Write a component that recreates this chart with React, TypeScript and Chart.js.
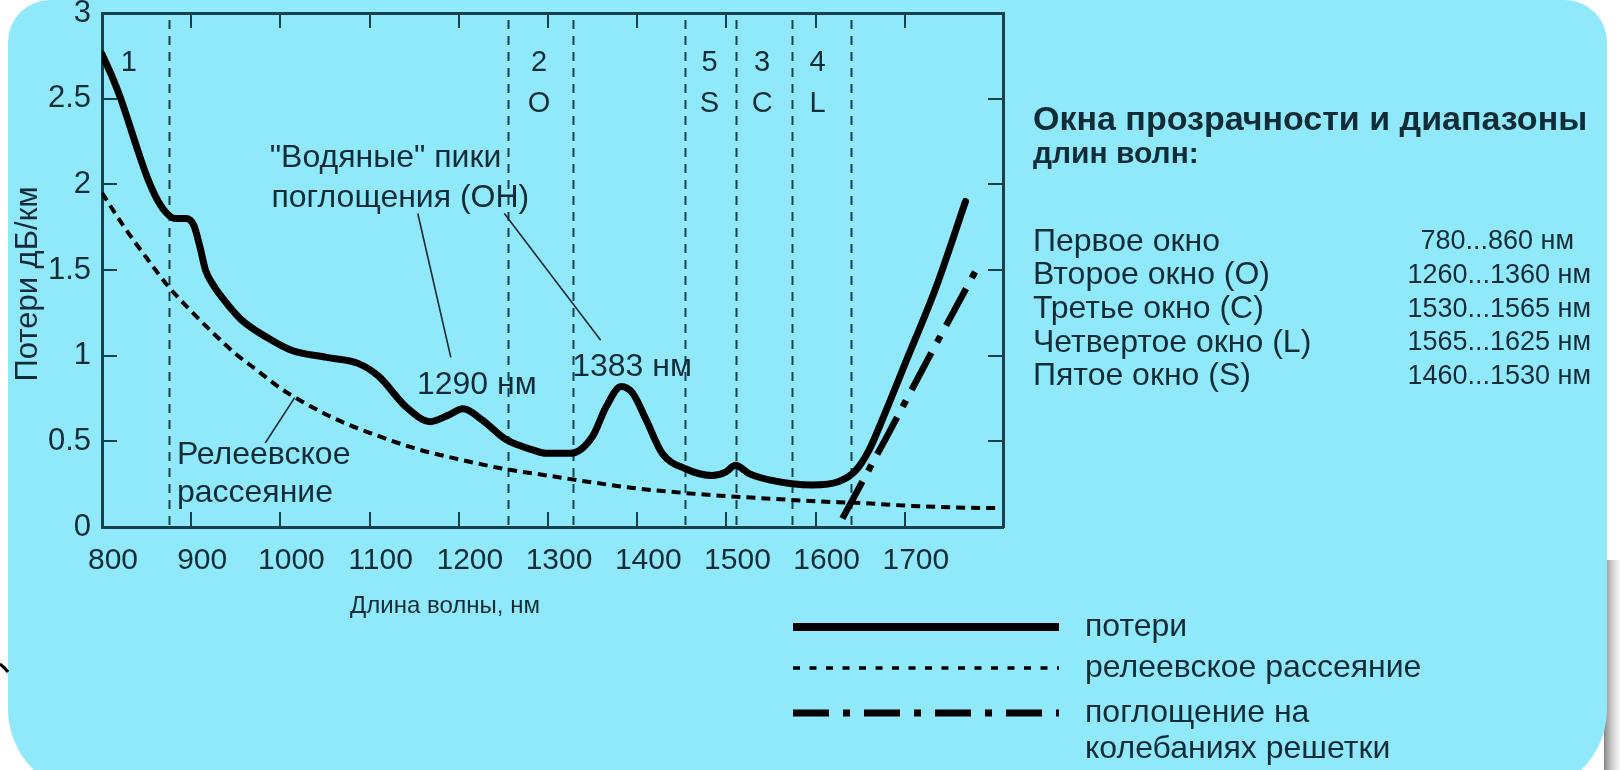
import { useEffect, useRef } from 'react';
import { Chart, registerables } from 'chart.js';

Chart.register(...registerables);

// ---------- data ----------
const lossWavelengths = [800, 812, 821, 830, 840, 850, 860, 871, 882, 894, 903, 910, 916, 925, 933, 956, 987, 1013, 1052, 1087, 1110, 1141, 1168, 1187, 1205, 1226, 1253, 1283, 1298, 1325, 1350, 1365, 1382, 1395, 1410, 1428, 1454, 1484, 1499, 1510, 1526, 1548, 1596, 1626, 1645, 1660, 1675, 1700, 1735, 1768];
const lossValues = [2.76, 2.62, 2.5, 2.36, 2.2, 2.05, 1.93, 1.84, 1.8, 1.8, 1.76, 1.63, 1.5, 1.41, 1.35, 1.21, 1.1, 1.03, 0.99, 0.955, 0.88, 0.7, 0.615, 0.65, 0.69, 0.625, 0.51, 0.45, 0.43, 0.43, 0.53, 0.7, 0.82, 0.78, 0.625, 0.43, 0.34, 0.3, 0.32, 0.36, 0.31, 0.275, 0.245, 0.265, 0.33, 0.45, 0.63, 0.95, 1.4, 1.9];

const rayleighWavelengths = [800, 825, 850, 875, 900, 925, 950, 975, 1000, 1025, 1050, 1075, 1100, 1150, 1200, 1250, 1300, 1350, 1400, 1450, 1500, 1550, 1600, 1650, 1700, 1750, 1805];
const rayleighValues = [1.95, 1.75, 1.57, 1.4, 1.26, 1.13, 1.01, 0.91, 0.81, 0.73, 0.66, 0.6, 0.55, 0.46, 0.395, 0.34, 0.3, 0.26, 0.225, 0.2, 0.18, 0.165, 0.15, 0.14, 0.125, 0.115, 0.11];

const latticeWavelengths = [1630, 1680, 1730, 1783];
const latticeValues = [0.05, 0.53, 1.02, 1.53];

const xTickValues = [800, 900, 1000, 1100, 1200, 1300, 1400, 1500, 1600, 1700];
const yTickValues = [0, 0.5, 1, 1.5, 2, 2.5, 3];

const windowBoundaries = [875, 1255, 1328, 1453, 1511, 1573, 1640];
const windowNumbers = ['1', '2', '5', '3', '4'];
const windowBands = ['', 'O', 'S', 'C', 'L'];

const tableTitle = ['Окна прозрачности и диапазоны', 'длин волн:'];
const tableNames = ['Первое окно', 'Второе окно (O)', 'Третье окно (C)', 'Четвертое окно (L)', 'Пятое окно (S)'];
const tableRanges = ['780...860 нм', '1260...1360 нм', '1530...1565 нм', '1565...1625 нм', '1460...1530 нм'];

const legendLabels = ['потери', 'релеевское рассеяние', 'поглощение на', 'колебаниях решетки'];

// ---------- styles ----------
const BG = '#8fe9fa';
const AXIS = '#17404c';
const TEXT = '#102c37';
const FONT = '"Liberation Sans", Arial, Helvetica, sans-serif';

const overlay = {
  id: 'overlay',
  beforeDraw(chart: any) {
    const { ctx, width, height } = chart;
    ctx.save();
    ctx.fillStyle = '#ffffff';
    ctx.fillRect(0, 0, width, height);
    const g = ctx.createLinearGradient(1604, 0, 1620, 0);
    g.addColorStop(0, 'rgba(120,120,120,0.9)');
    g.addColorStop(1, 'rgba(235,235,235,0.4)');
    ctx.fillStyle = g;
    ctx.fillRect(1604, 560, 16, 210);
    ctx.fillStyle = BG;
    ctx.beginPath();
    ctx.roundRect(8, 0, 1599, 794, [42, 42, 85, 85]);
    ctx.fill();
    ctx.strokeStyle = '#000';
    ctx.lineWidth = 3;
    ctx.beginPath();
    ctx.moveTo(0, 664);
    ctx.quadraticCurveTo(5, 668, 8, 672);
    ctx.stroke();
    ctx.restore();
  },
  beforeDatasetsDraw(chart: any) {
    const { ctx, chartArea } = chart;
    const xs = chart.scales.x;
    ctx.save();
    ctx.strokeStyle = AXIS;
    ctx.lineWidth = 2;
    ctx.setLineDash([9, 7]);
    windowBoundaries.forEach((w) => {
      const x = Math.round(xs.getPixelForValue(w)) + 0.5;
      ctx.beginPath();
      ctx.moveTo(x, chartArea.bottom - 2);
      ctx.lineTo(x, chartArea.top + 2);
      ctx.stroke();
    });
    ctx.restore();
  },
  afterDatasetsDraw(chart: any) {
    const { ctx } = chart;
    const xs = chart.scales.x;
    const ys = chart.scales.y;
    const px = (v: number) => xs.getPixelForValue(v);
    const py = (v: number) => ys.getPixelForValue(v);
    ctx.save();
    ctx.fillStyle = TEXT;
    ctx.textBaseline = 'middle';
    const txt = (s: string, x: number, y: number, size: number, align = 'left', bold = false) => {
      ctx.font = `${bold ? 'bold ' : ''}${size}px ${FONT}`;
      ctx.textAlign = align;
      ctx.fillText(s, x, y);
    };

    // window numbers and bands
    const winCenters = [830, 1290, 1481, 1540, 1602];
    windowNumbers.forEach((n, i) => {
      txt(n, px(winCenters[i]), py(2.71), 29, 'center');
      if (windowBands[i]) txt(windowBands[i], px(winCenters[i]), py(2.47), 29, 'center');
    });

    // leader lines
    ctx.strokeStyle = '#1a2a30';
    ctx.lineWidth = 1.6;
    const leader = (x1: number, y1: number, x2: number, y2: number) => {
      ctx.beginPath();
      ctx.moveTo(px(x1), py(y1));
      ctx.lineTo(px(x2), py(y2));
      ctx.stroke();
    };
    leader(1154, 1.83, 1191, 0.99);
    leader(1251, 1.83, 1359, 1.09);
    leader(983, 0.49, 1016, 0.755);

    // annotations
    txt('"Водяные" пики', px(988), py(2.15), 32);
    txt('поглощения (ОН)', px(990), py(1.92), 32);
    txt('1290 нм', px(1153), py(0.83), 32);
    txt('1383 нм', px(1327), py(0.93), 32);
    txt('Релеевское', px(884), py(0.42), 32);
    txt('рассеяние', px(884), py(0.2), 32);

    // axis titles
    txt('Длина волны, нм', 445, 606, 24, 'center');
    ctx.save();
    ctx.translate(28, 284);
    ctx.rotate(-Math.PI / 2);
    txt('Потери дБ/км', 0, 0, 31, 'center');
    ctx.restore();

    // table
    txt(tableTitle[0], 1033, 121, 34, 'left', true);
    txt(tableTitle[1], 1033, 155, 30, 'left', true);
    tableNames.forEach((n, i) => {
      const y = 242 + i * 33.6;
      txt(n, 1033, y, 32);
      txt(tableRanges[i], i === 0 ? 1574 : 1591, y, 27, 'right');
    });

    // legend
    const lx1 = 793;
    const lx2 = 1059;
    ctx.strokeStyle = '#000';
    ctx.lineWidth = 8;
    ctx.setLineDash([]);
    ctx.beginPath();
    ctx.moveTo(lx1, 627);
    ctx.lineTo(lx2, 627);
    ctx.stroke();
    ctx.lineWidth = 3.5;
    ctx.setLineDash([7, 9.5]);
    ctx.beginPath();
    ctx.moveTo(lx1, 668);
    ctx.lineTo(lx2, 668);
    ctx.stroke();
    ctx.lineWidth = 7;
    ctx.setLineDash([36, 14, 7, 14]);
    ctx.beginPath();
    ctx.moveTo(lx1, 713);
    ctx.lineTo(lx2, 713);
    ctx.stroke();
    ctx.setLineDash([]);
    txt(legendLabels[0], 1085, 627, 32);
    txt(legendLabels[1], 1085, 668, 32);
    txt(legendLabels[2], 1085, 713, 32);
    txt(legendLabels[3], 1085, 749, 32);
    ctx.restore();
  },
};

const toPoints = (xs: number[], ys: number[]) => xs.map((x, i) => ({ x, y: ys[i] }));

const axisCommon = () => ({
  border: { color: AXIS, width: 3 },
  grid: { drawOnChartArea: false, drawTicks: true, tickLength: -15, color: AXIS, lineWidth: 2 },
});

const plainLabel = (v: any) => String(v);

export default function App() {
  const ref = useRef<HTMLCanvasElement>(null);
  useEffect(() => {
    const canvas = ref.current;
    if (!canvas) return;
    const setXTicks = (s: any) => {
      s.ticks = xTickValues.map((v) => ({ value: v }));
    };
    const setYTicks = (s: any) => {
      s.ticks = yTickValues.map((v) => ({ value: v }));
    };
    const fitH = (h: number) => (s: any) => {
      s.height = h;
      s.paddingLeft = 0;
      s.paddingRight = 0;
      s.paddingTop = 0;
      s.paddingBottom = 0;
    };
    const fitW = (w: number) => (s: any) => {
      s.width = w;
      s.paddingLeft = 0;
      s.paddingRight = 0;
      s.paddingTop = 0;
      s.paddingBottom = 0;
    };
    const chart = new Chart(canvas, {
      type: 'line',
      data: {
        datasets: [
          {
            label: 'потери',
            data: toPoints(lossWavelengths, lossValues),
            borderColor: '#000',
            borderWidth: 7,
            pointRadius: 0,
            cubicInterpolationMode: 'monotone',
            borderCapStyle: 'round',
            borderJoinStyle: 'round',
            xAxisID: 'x',
            yAxisID: 'y',
          },
          {
            label: 'релеевское рассеяние',
            data: toPoints(rayleighWavelengths, rayleighValues),
            borderColor: '#000',
            borderWidth: 4,
            borderDash: [9, 6],
            pointRadius: 0,
            cubicInterpolationMode: 'monotone',
            xAxisID: 'x',
            yAxisID: 'y',
          },
          {
            label: 'поглощение на колебаниях решетки',
            data: toPoints(latticeWavelengths, latticeValues),
            borderColor: '#000',
            borderWidth: 6.5,
            borderDash: [42, 12, 7, 12],
            pointRadius: 0,
            tension: 0,
            xAxisID: 'x',
            yAxisID: 'y',
          },
        ],
      } as any,
      options: {
        responsive: false,
        maintainAspectRatio: false,
        animation: false,
        layout: { padding: 0 },
        plugins: { legend: { display: false }, tooltip: { enabled: false } },
        scales: {
          x: {
            type: 'linear',
            position: 'bottom',
            min: 800,
            max: 1810,
            afterBuildTicks: setXTicks,
            afterFit: fitH(243),
            ...axisCommon(),
            ticks: {
              color: TEXT,
              font: { family: FONT, size: 30 },
              padding: 31,
              labelOffset: 11,
              maxRotation: 0,
              autoSkip: false,
              callback: plainLabel,
            },
          },
          x2: {
            type: 'linear',
            position: 'top',
            axis: 'x',
            min: 800,
            max: 1810,
            afterBuildTicks: setXTicks,
            afterFit: fitH(13),
            ...axisCommon(),
            ticks: { display: false },
          },
          y: {
            type: 'linear',
            position: 'left',
            min: 0,
            max: 3,
            afterBuildTicks: setYTicks,
            afterFit: fitW(102),
            ...axisCommon(),
            ticks: {
              color: TEXT,
              font: { family: FONT, size: 31 },
              padding: 26,
              callback: plainLabel,
            },
          },
          y2: {
            type: 'linear',
            position: 'right',
            axis: 'y',
            min: 0,
            max: 3,
            afterBuildTicks: setYTicks,
            afterFit: fitW(617),
            ...axisCommon(),
            ticks: { display: false },
          },
        },
      } as any,
      plugins: [overlay],
    });
    return () => chart.destroy();
  }, []);
  return (
    <div style={{ position: 'fixed', left: 0, top: 0, width: 1620, height: 770, overflow: 'hidden' }}>
      <canvas ref={ref} width={1620} height={770} style={{ display: 'block', width: 1620, height: 770 }} />
    </div>
  );
}
